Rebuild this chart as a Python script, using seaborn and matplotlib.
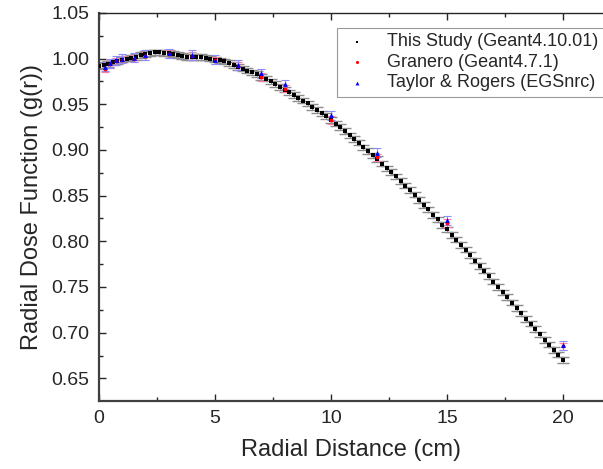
import numpy as np
import pandas as pd
import seaborn as sns
import matplotlib.pyplot as plt
from matplotlib.ticker import MultipleLocator

sns.set_style('ticks')
plt.rcParams['font.family'] = ['Liberation Sans', 'DejaVu Sans']

# This study (Geant4.10.01), every 0.2 cm
study_r = np.round(np.arange(0, 20.01, 0.2), 1)
study_g = [0.992, 0.993, 0.994, 0.996, 0.997, 0.999, 1.000, 1.001, 1.002, 1.004,
           1.005, 1.006, 1.007, 1.007, 1.006, 1.006, 1.005, 1.004, 1.003, 1.002,
           1.002, 1.002, 1.002, 1.001, 1.000, 0.999, 0.998, 0.997, 0.995, 0.993,
           0.991, 0.989, 0.987, 0.985, 0.983, 0.980, 0.978, 0.975, 0.972, 0.969,
           0.966, 0.963, 0.960, 0.957, 0.954, 0.951, 0.947, 0.944, 0.940, 0.937,
           0.933, 0.929, 0.925, 0.921, 0.916, 0.912, 0.908, 0.903, 0.899, 0.894,
           0.890, 0.885, 0.880, 0.876, 0.871, 0.866, 0.861, 0.856, 0.851, 0.845,
           0.840, 0.835, 0.829, 0.824, 0.818, 0.813, 0.807, 0.802, 0.796, 0.791,
           0.785, 0.779, 0.773, 0.768, 0.762, 0.756, 0.750, 0.744, 0.739, 0.733,
           0.727, 0.721, 0.715, 0.710, 0.704, 0.698, 0.692, 0.687, 0.681, 0.676,
           0.670]
study_err = 0.003

ref_r = [0.25, 0.5, 0.75, 1, 1.5, 2, 3, 4, 5, 6, 7, 8, 10, 12, 15, 20]
granero_g = [0.989, 0.994, 0.997, 0.999, 1.000, 1.003, 1.005, 1.003, 0.998, 0.992,
             0.980, 0.967, 0.933, 0.892, 0.820, 0.685]
granero_err = 0.004
taylor_g = [0.991, 0.995, 0.998, 1.000, 1.001, 1.004, 1.006, 1.004, 0.999, 0.993,
            0.984, 0.972, 0.938, 0.897, 0.823, 0.686]
taylor_err = 0.005

study = pd.DataFrame({'r': study_r, 'g': study_g})
granero = pd.DataFrame({'r': ref_r, 'g': granero_g})
taylor = pd.DataFrame({'r': ref_r, 'g': taylor_g})

fig = plt.figure(figsize=(6.03, 4.69), dpi=100)
ax = fig.add_axes([0.164, 0.1456, 0.836, 0.8267])

ax.errorbar(study['r'], study['g'], yerr=study_err, fmt='none', ecolor='0.55',
            elinewidth=0.8, capsize=4, capthick=1.0, zorder=2)
ax.errorbar(granero['r'], granero['g'], yerr=granero_err, fmt='none', ecolor='#ff7f9f',
            elinewidth=0.8, capsize=3, capthick=0.8, zorder=3)
ax.errorbar(taylor['r'], taylor['g'], yerr=taylor_err, fmt='none', ecolor='#8c8cff',
            elinewidth=0.8, capsize=3, capthick=0.8, zorder=3)

sns.scatterplot(data=study, x='r', y='g', ax=ax, marker='s', s=5, color='black',
                edgecolor='black', linewidth=0, label='This Study (Geant4.10.01)', zorder=4)
sns.scatterplot(data=granero, x='r', y='g', ax=ax, marker='o', s=8, color='red',
                edgecolor='red', linewidth=0, label='Granero (Geant4.7.1)', zorder=5)
sns.scatterplot(data=taylor, x='r', y='g', ax=ax, marker='^', s=12, color='blue',
                edgecolor='blue', linewidth=0, label='Taylor & Rogers (EGSnrc)', zorder=6)

ax.set_xlim(0, 21.72)
ax.set_ylim(0.6255, 1.05)
ax.xaxis.set_major_locator(MultipleLocator(5))
ax.xaxis.set_minor_locator(MultipleLocator(2.5))
ax.yaxis.set_major_locator(MultipleLocator(0.05))
ax.yaxis.set_minor_locator(MultipleLocator(0.025))
ax.yaxis.set_major_formatter(plt.FormatStrFormatter('%.2f'))
ax.tick_params(which='both', direction='in', top=True, right=False, labelsize=14, pad=7)
ax.tick_params(which='major', length=5, width=1)
ax.tick_params(which='minor', length=3, width=1)

for side in ['left', 'bottom']:
    ax.spines[side].set_linewidth(1.6)
    ax.spines[side].set_color('0.25')
ax.spines['top'].set_linewidth(1.0)
ax.spines['right'].set_visible(False)

ax.set_xlabel('Radial Distance (cm)', fontsize=17, labelpad=8)
ax.set_ylabel('Radial Dose Function (g(r))', fontsize=17, labelpad=6)

leg = ax.legend(loc='upper right', bbox_to_anchor=(1.02, 0.985), fontsize=13,
                frameon=True, fancybox=False, edgecolor='0.5', handletextpad=0.9,
                markerscale=0.8, borderpad=0.3, labelspacing=0.2, handlelength=1.6)
leg.get_frame().set_linewidth(0.8)

fig.savefig('out.png', dpi=100)
